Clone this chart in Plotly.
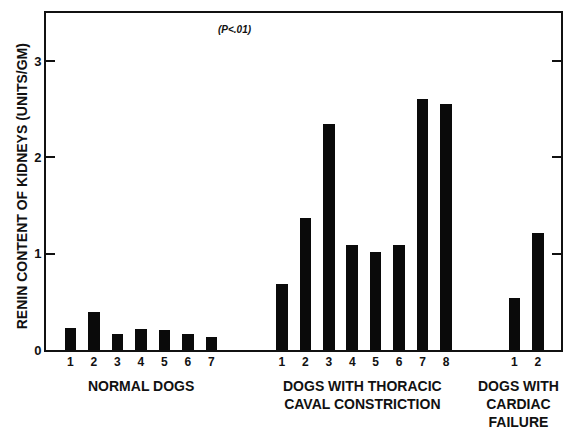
import plotly.graph_objects as go

# Data (renin content, units/gm)
normal_labels = ["1", "2", "3", "4", "5", "6", "7"]
normal_values = [0.23, 0.39, 0.17, 0.22, 0.21, 0.17, 0.13]

thoracic_labels = ["1", "2", "3", "4", "5", "6", "7", "8"]
thoracic_values = [0.69, 1.37, 2.35, 1.09, 1.02, 1.09, 2.61, 2.55]

cardiac_labels = ["1", "2"]
cardiac_values = [0.54, 1.22]

group_names = ["NORMAL DOGS", "DOGS WITH THORACIC<br>CAVAL CONSTRICTION",
               "DOGS WITH<br>CARDIAC<br>FAILURE"]
y_ticks = [0, 1, 2, 3]
y_title = "RENIN CONTENT OF KIDNEYS (UNITS/GM)"
p_note = "(P<.01)"

# layout: slot offsets of each group on a numeric x axis
group_starts = [0, 9, 18.9]
label_shifts = [0, -1, -8]   # pixel nudges for the group labels
groups = [(normal_labels, normal_values), (thoracic_labels, thoracic_values),
          (cardiac_labels, cardiac_values)]

FONT = "Liberation Sans, Arial, sans-serif"
Y_MAX = 3.5

fig = go.Figure()
tickvals, ticktext = [], []
for (labels, values), start in zip(groups, group_starts):
    xs = [start + i for i in range(len(values))]
    tickvals += xs
    ticktext += labels
    fig.add_trace(go.Bar(x=xs, y=values, width=0.49,
                         marker=dict(color="#0a0a0a", line=dict(width=0)),
                         showlegend=False))

fig.update_layout(
    width=565, height=430,
    margin=dict(l=46, r=2, t=13, b=80),
    paper_bgcolor="white", plot_bgcolor="white",
    font=dict(family=FONT, color="#111", size=13),
    bargap=0,
)
fig.update_xaxes(range=[-1.04, 20.89], tickvals=tickvals, ticktext=ticktext,
                 showgrid=False, zeroline=False, showline=True, linecolor="#111",
                 linewidth=2, mirror=True, ticks="",
                 tickfont=dict(family=FONT, size=12, color="#111", weight="bold"))
fig.update_yaxes(range=[0, Y_MAX], tickvals=y_ticks, showgrid=False, zeroline=False,
                 showline=True, linecolor="#111", linewidth=2, mirror="ticks",
                 ticks="inside", ticklen=9, tickwidth=2, tickcolor="#111",
                 tickfont=dict(family=FONT, size=13, color="#111", weight="bold"))

# group labels
centers = [group_starts[i] + (len(groups[i][1]) - 1) / 2 for i in range(3)]
for name, cx, sh in zip(group_names, centers, label_shifts):
    fig.add_annotation(x=cx, y=-0.077, xref="x", yref="paper", text=name, showarrow=False,
                       yanchor="top", align="center", xshift=sh,
                       font=dict(family=FONT, size=14, color="#111", weight="bold"))

fig.add_annotation(x=0, xref="paper", xshift=-24, y=1.7 / Y_MAX, yref="paper", text=y_title,
                   textangle=-90, showarrow=False, xanchor="center", yanchor="middle",
                   font=dict(family=FONT, size=14, color="#111", weight="bold"))

fig.add_annotation(x=7, y=3.33, xref="x", yref="y", text="<i>" + p_note + "</i>",
                   showarrow=False, font=dict(family=FONT, size=10, color="#111", weight="bold"))

fig.write_html("out.html", config={"displayModeBar": False},
               post_script="document.body.style.margin='0px';"
                           "document.body.style.overflow='hidden';")
